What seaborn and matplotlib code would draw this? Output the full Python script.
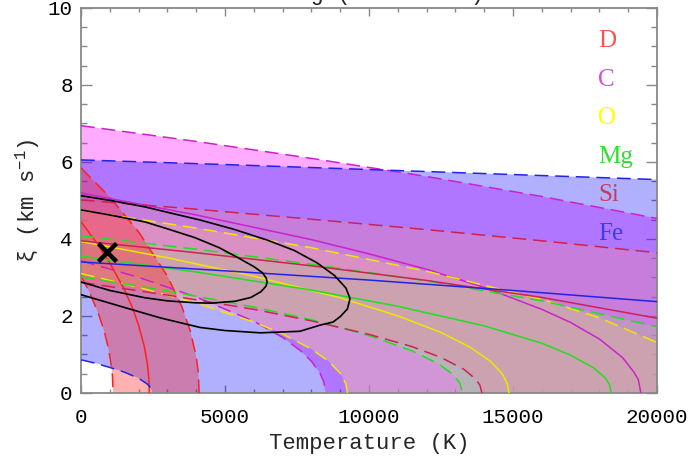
import numpy as np
import pandas as pd
import seaborn as sns
import matplotlib.pyplot as plt
from matplotlib.ticker import MultipleLocator

# ---- element bands: upper (dashed), centre (solid), lower (dashed) curves
D_UP_T = [0, 1000, 2000, 3000, 3500, 3800, 4000, 4070, 4100]
D_UP_XI = [5.84, 5.08, 4.18, 3.03, 2.24, 1.59, 0.93, 0.53, 0.0]
D_MID_T = [0, 500, 1000, 1500, 1800, 2000, 2200, 2300, 2350, 2370]
D_MID_XI = [4.44, 3.94, 3.37, 2.69, 2.18, 1.75, 1.19, 0.77, 0.41, 0.0]
D_LO_T = [0, 300, 600, 800, 950, 1050, 1090, 1110]
D_LO_XI = [3.04, 2.60, 2.06, 1.61, 1.16, 0.71, 0.43, 0.0]

C_UP_T = [0, 4000, 8000, 12000, 16000, 20000]
C_UP_XI = [6.94, 6.53, 6.09, 5.62, 5.10, 4.53]
C_MID_T = [0, 4000, 8000, 10000, 12000, 14000, 16000, 17000, 18000, 18800, 19200, 19350, 19440]
C_MID_XI = [5.19, 4.62, 3.98, 3.61, 3.21, 2.74, 2.17, 1.83, 1.40, 0.92, 0.54, 0.35, 0.0]
C_LO_T = [0, 2000, 4000, 6000, 7000, 7600, 8000, 8300, 8430, 8490]
C_LO_XI = [3.43, 3.00, 2.49, 1.86, 1.44, 1.11, 0.82, 0.51, 0.28, 0.0]

O_UP_T = [0, 4000, 8000, 12000, 16000, 18000, 20000]
O_UP_XI = [4.74, 4.28, 3.77, 3.16, 2.43, 1.95, 1.31]
O_MID_T = [0, 3000, 6000, 9000, 11000, 12500, 13500, 14200, 14600, 14800, 14860]
O_MID_XI = [3.93, 3.51, 3.03, 2.47, 2.00, 1.57, 1.19, 0.83, 0.52, 0.25, 0.0]
O_LO_T = [0, 2000, 4000, 6000, 7000, 8000, 8600, 9000, 9200, 9250]
O_LO_XI = [3.10, 2.74, 2.33, 1.84, 1.53, 1.14, 0.82, 0.51, 0.23, 0.0]

MG_UP_T = [0, 4000, 8000, 12000, 16000, 20000]
MG_UP_XI = [4.08, 3.73, 3.34, 2.91, 2.39, 1.72]
MG_MID_T = [0, 4000, 8000, 11000, 14000, 16000, 17000, 17800, 18200, 18350, 18420]
MG_MID_XI = [3.55, 3.14, 2.67, 2.25, 1.74, 1.29, 0.98, 0.65, 0.39, 0.22, 0.0]
MG_LO_T = [0, 3000, 6000, 8000, 10000, 11500, 12400, 12900, 13150, 13250]
MG_LO_XI = [3.01, 2.65, 2.23, 1.90, 1.49, 1.09, 0.76, 0.49, 0.26, 0.0]

SI_UP_T = [0, 4000, 8000, 12000, 16000, 20000]
SI_UP_XI = [5.01, 4.77, 4.51, 4.24, 3.95, 3.64]
SI_MID_T = [0, 4000, 8000, 12000, 16000, 20000]
SI_MID_XI = [3.95, 3.64, 3.30, 2.92, 2.48, 1.94]
SI_LO_T = [0, 3000, 6000, 8000, 10000, 11500, 12500, 13300, 13700, 13850, 13920]
SI_LO_XI = [2.87, 2.54, 2.17, 1.87, 1.52, 1.20, 0.92, 0.61, 0.36, 0.20, 0.0]

FE_UP_T = [0, 5000, 10000, 15000, 20000]
FE_UP_XI = [6.05, 5.93, 5.80, 5.67, 5.54]
FE_MID_T = [0, 5000, 10000, 15000, 20000]
FE_MID_XI = [3.40, 3.17, 2.93, 2.66, 2.37]
FE_LO_T = [0, 500, 1000, 1500, 2000, 2300, 2430, 2480]
FE_LO_XI = [0.86, 0.77, 0.66, 0.54, 0.38, 0.23, 0.12, 0.0]

# ---- confidence contours and best-fit point
ELL1_T = [0, 1000, 2220, 3000, 3960, 4800, 5450, 6000, 6300, 6430, 6460, 6420, 6250,
          5900, 5350, 4500, 3960, 3000, 2220, 1000, 0]
ELL1_XI = [4.75, 4.62, 4.44, 4.26, 4.03, 3.77, 3.51, 3.28, 3.12, 2.98, 2.88, 2.77, 2.63,
           2.48, 2.38, 2.33, 2.34, 2.39, 2.47, 2.66, 2.88]
ELL2_T = [0, 1000, 2220, 3000, 4130, 5300, 6460, 7400, 8190, 8800, 9200, 9340, 9250,
          9000, 8750, 8300, 7600, 6220, 5000, 4130, 2740, 1500, 0]
ELL2_XI = [5.12, 5.00, 4.83, 4.69, 4.49, 4.25, 3.97, 3.70, 3.38, 3.05, 2.72, 2.45, 2.18,
           1.98, 1.84, 1.76, 1.60, 1.56, 1.62, 1.70, 1.95, 2.22, 2.55]
BEST_T = [900]
BEST_XI = [3.66]

ELEMENTS = ['D', 'C', 'O', 'Mg', 'Si', 'Fe']
# shading colours/opacities picked so the overlaps come out like the original
FILL_COLOURS = ['#ff1e1e', '#ff00ff', '#fabea5', '#93e18c', '#ec89a8', '#0000ff']
FILL_ALPHAS = [0.35, 0.33, 0.45, 0.40, 0.40, 0.31]
FILL_ORDER = [1, 5, 2, 3, 4, 0]
LINE_COLOURS = ['#ff2020', '#cc22cc', '#f2e600', '#22dd22', '#cc2255', '#2222ee']
TEXT_COLOURS = ['#ff5050', '#d050e0', '#ffff00', '#30e030', '#c83c64', '#3c3cf0']

bands = [
    (D_UP_T, D_UP_XI, D_MID_T, D_MID_XI, D_LO_T, D_LO_XI),
    (C_UP_T, C_UP_XI, C_MID_T, C_MID_XI, C_LO_T, C_LO_XI),
    (O_UP_T, O_UP_XI, O_MID_T, O_MID_XI, O_LO_T, O_LO_XI),
    (MG_UP_T, MG_UP_XI, MG_MID_T, MG_MID_XI, MG_LO_T, MG_LO_XI),
    (SI_UP_T, SI_UP_XI, SI_MID_T, SI_MID_XI, SI_LO_T, SI_LO_XI),
    (FE_UP_T, FE_UP_XI, FE_MID_T, FE_MID_XI, FE_LO_T, FE_LO_XI),
]

sns.set_style('ticks')
plt.rcParams['font.family'] = ['Liberation Mono', 'DejaVu Sans']
plt.rcParams['mathtext.fontset'] = 'custom'
plt.rcParams['mathtext.rm'] = 'Liberation Mono'
plt.rcParams['mathtext.it'] = 'Liberation Mono'

fig = plt.figure(figsize=(6.93, 4.59), dpi=100)
ax = fig.add_axes([0.117, 0.144, 0.831, 0.839])

# shaded bands (between the dashed limits, down to the axis once the lower limit hits zero)
for i in FILL_ORDER:
    up_t, up_xi, mid_t, mid_xi, lo_t, lo_xi = bands[i]
    px = list(up_t) + [up_t[-1]] + lo_t[::-1]
    py = list(up_xi) + [0.0] + lo_xi[::-1]
    ax.fill(px, py, color=FILL_COLOURS[i], alpha=FILL_ALPHAS[i], lw=0, zorder=1)

dash = (0, (9, 4.5))
for (up_t, up_xi, mid_t, mid_xi, lo_t, lo_xi), lc in zip(bands, LINE_COLOURS):
    for t, xi, ls in [(up_t, up_xi, dash), (mid_t, mid_xi, '-'), (lo_t, lo_xi, dash)]:
        sns.lineplot(x=t, y=xi, ax=ax, color=lc, linewidth=1.1, linestyle=ls,
                     estimator=None, sort=False, legend=False, zorder=3)

for t, xi in [(ELL1_T, ELL1_XI), (ELL2_T, ELL2_XI)]:
    sns.lineplot(x=t, y=xi, ax=ax, color='black', linewidth=1.2,
                 estimator=None, sort=False, legend=False, zorder=4)

sns.scatterplot(x=BEST_T, y=BEST_XI, ax=ax, marker='x', s=170, color='black',
                linewidth=3.2, zorder=5, legend=False)

for i, (name, tc) in enumerate(zip(ELEMENTS, TEXT_COLOURS)):
    ax.text(17950, 8.98 - i, name, color=tc, fontsize=18, va='baseline', ha='left',
            family=['Liberation Serif', 'DejaVu Serif'])

ax.set_xlim(0, 20000)
ax.set_ylim(0, 10)
ax.xaxis.set_major_locator(MultipleLocator(5000))
ax.xaxis.set_minor_locator(MultipleLocator(1000))
ax.yaxis.set_major_locator(MultipleLocator(2))
ax.yaxis.set_minor_locator(MultipleLocator(0.5))
ax.tick_params(which='both', direction='in', top=True, right=True, color='#888888',
               labelcolor='black', labelsize=15, width=1.0)
ax.tick_params(axis='x', which='major', length=6, pad=11)
ax.tick_params(axis='x', which='minor', length=3)
ax.tick_params(axis='y', which='major', length=8, pad=6)
ax.tick_params(axis='y', which='minor', length=4.5)
for sp in ax.spines.values():
    sp.set_color('#888888')
    sp.set_linewidth(1.3)

ax.set_xlabel('Temperature (K)', fontsize=16, labelpad=4)
ax.set_ylabel('ξ (km s$^{-1}$)', fontsize=16, labelpad=4)

# title sits mostly above the canvas, as in the original
fig.text(0.4286, 1.0, 'Mg (all lines)', ha='left', va='baseline', fontsize=16)

fig.savefig('out.png', dpi=100)
